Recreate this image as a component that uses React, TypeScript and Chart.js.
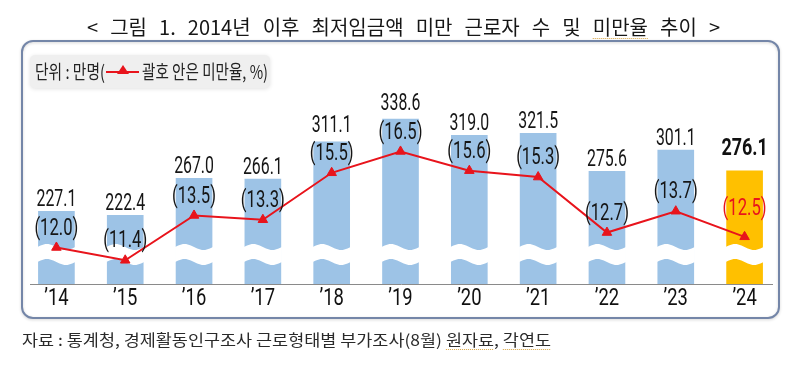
import React, { useEffect, useRef } from 'react';
import { Chart, registerables } from 'chart.js';

Chart.register(...registerables);

const TITLE = '< 그림 1. 2014년 이후 최저임금액 미만 근로자 수 및 미만율 추이 >';
const LEGEND_UNIT = '단위 : 만명(';
const LEGEND_NOTE = '괄호 안은 미만율, %)';
const SOURCE = '자료 : 통계청, 경제활동인구조사 근로형태별 부가조사(8월) 원자료, 각연도';

const years = ['’14', '’15', '’16', '’17', '’18', '’19', '’20', '’21', '’22', '’23', '’24'];
const workers = [227.1, 222.4, 267.0, 266.1, 311.1, 338.6, 319.0, 321.5, 275.6, 301.1, 276.1];
const rates = [12.0, 11.4, 13.5, 13.3, 15.5, 16.5, 15.6, 15.3, 12.7, 13.7, 12.5];

const BLUE = '#9dc3e6';
const GOLD = '#ffc000';
const RED = '#e8141c';
const INK = '#161616';
const CJK = '"Noto Sans CJK KR", "Noto Sans", sans-serif';
const NUM = 'Roboto, "Liberation Sans", sans-serif';

function drawScaled(ctx: CanvasRenderingContext2D, text: string, x: number, y: number, font: string, color: string, sx: number, align: CanvasTextAlign = 'center') {
  ctx.save();
  ctx.font = font;
  ctx.fillStyle = color;
  ctx.textBaseline = 'middle';
  ctx.textAlign = align;
  ctx.translate(x, y);
  ctx.scale(sx, 1);
  ctx.fillText(text, 0, 0);
  ctx.restore();
}

function drawFit(ctx: CanvasRenderingContext2D, text: string, x: number, y: number, font: string, color: string, width: number) {
  ctx.save();
  ctx.font = font;
  const w = ctx.measureText(text).width;
  ctx.restore();
  const sx = width / w;
  drawScaled(ctx, text, x, y, font, color, sx, 'left');
  return sx;
}

function dotted(ctx: CanvasRenderingContext2D, x1: number, x2: number, y: number) {
  ctx.save();
  ctx.strokeStyle = '#d9a441';
  ctx.lineWidth = 1;
  ctx.setLineDash([1, 1]);
  ctx.beginPath();
  ctx.moveTo(x1, y + 0.5);
  ctx.lineTo(x2, y + 0.5);
  ctx.stroke();
  ctx.restore();
}

const framePlugin = {
  id: 'frame',
  beforeDraw(chart: any) {
    const ctx: CanvasRenderingContext2D = chart.ctx;
    ctx.save();
    ctx.fillStyle = '#ffffff';
    ctx.fillRect(0, 0, chart.width, chart.height);
    ctx.restore();

    // title with widened word gaps
    ctx.save();
    ctx.font = `20px ${CJK}`;
    const words = TITLE.split(' ');
    const widths = words.map((w) => ctx.measureText(w).width);
    const total = widths.reduce((a, b) => a + b, 0);
    const gap = (633 - total) / (words.length - 1);
    let x = 87;
    ctx.fillStyle = INK;
    ctx.textBaseline = 'middle';
    words.forEach((w, i) => {
      ctx.fillText(w, x, 27);
      if (w === '미만율') dotted(ctx, x, x + widths[i], 38);
      x += widths[i] + gap;
    });
    ctx.restore();

    // outer box
    ctx.save();
    ctx.shadowColor = 'rgba(0,0,0,0.18)';
    ctx.shadowBlur = 3;
    ctx.shadowOffsetY = 1;
    ctx.strokeStyle = '#7486a8';
    ctx.lineWidth = 2;
    ctx.beginPath();
    ctx.roundRect(22, 41, 757, 277, 11);
    ctx.stroke();
    ctx.restore();

    // legend box
    ctx.save();
    ctx.shadowColor = 'rgba(0,0,0,0.12)';
    ctx.shadowBlur = 4;
    ctx.shadowOffsetY = 1;
    ctx.fillStyle = '#efefef';
    ctx.beginPath();
    ctx.roundRect(30, 55, 240, 33, 5);
    ctx.fill();
    ctx.restore();

    drawFit(ctx, LEGEND_UNIT, 35, 72, `19px ${CJK}`, '#222', 70);
    ctx.save();
    ctx.strokeStyle = RED;
    ctx.lineWidth = 2;
    ctx.beginPath();
    ctx.moveTo(106, 72);
    ctx.lineTo(139, 72);
    ctx.stroke();
    ctx.fillStyle = RED;
    ctx.beginPath();
    ctx.moveTo(123, 65);
    ctx.lineTo(129, 74);
    ctx.lineTo(117, 74);
    ctx.closePath();
    ctx.fill();
    ctx.restore();
    drawFit(ctx, LEGEND_NOTE, 142, 72, `19px ${CJK}`, '#222', 126);

    // source
    const ssx = drawFit(ctx, SOURCE, 22, 340, `15.5px ${CJK}`, '#2a2a2a', 529);
    ctx.save();
    ctx.font = `15.5px ${CJK}`;
    const i1 = SOURCE.indexOf('원자료');
    const i2 = SOURCE.indexOf('각연도');
    const a1 = 22 + ctx.measureText(SOURCE.slice(0, i1)).width * ssx;
    const b1 = 22 + ctx.measureText(SOURCE.slice(0, i1 + 3)).width * ssx;
    const a2 = 22 + ctx.measureText(SOURCE.slice(0, i2)).width * ssx;
    const b2 = 22 + ctx.measureText(SOURCE.slice(0, i2 + 3)).width * ssx;
    ctx.restore();
    dotted(ctx, a1, b1, 349);
    dotted(ctx, a2, b2, 349);
  },
};

const breakPlugin = {
  id: 'axisBreak',
  afterDatasetDraw(chart: any, args: any) {
    if (args.index !== 0) return;
    const ctx: CanvasRenderingContext2D = chart.ctx;
    const base = chart.chartArea.bottom;
    const top = base - 37;
    const bot = base - 22;
    const amp = 3;
    ctx.save();
    ctx.fillStyle = '#ffffff';
    args.meta.data.forEach((el: any) => {
      const left = el.x - el.width / 2 - 1;
      const w = el.width + 2;
      ctx.beginPath();
      const steps = 24;
      for (let s = 0; s <= steps; s++) {
        const t = s / steps;
        const y = top - amp * Math.sin(2 * Math.PI * t);
        if (s === 0) ctx.moveTo(left + t * w, y);
        else ctx.lineTo(left + t * w, y);
      }
      for (let s = steps; s >= 0; s--) {
        const t = s / steps;
        const y = bot - amp * Math.sin(2 * Math.PI * t);
        ctx.lineTo(left + t * w, y);
      }
      ctx.closePath();
      ctx.fill();
    });
    ctx.restore();
  },
};

const labelPlugin = {
  id: 'labels',
  afterDatasetsDraw(chart: any) {
    const ctx: CanvasRenderingContext2D = chart.ctx;
    const bars = chart.getDatasetMeta(0).data;
    const pts = chart.getDatasetMeta(1).data;
    const last = years.length - 1;

    // baseline
    ctx.save();
    ctx.strokeStyle = '#8a8a8a';
    ctx.lineWidth = 1;
    ctx.beginPath();
    ctx.moveTo(30, chart.chartArea.bottom + 0.5);
    ctx.lineTo(773, chart.chartArea.bottom + 0.5);
    ctx.stroke();
    ctx.restore();

    years.forEach((yr, i) => {
      const b = bars[i];
      const p = pts[i];
      const hi = i === last;
      const rateY = hi ? p.y - 28 : p.y - 19;
      const valY = hi ? b.y - 22 : Math.min(b.y - 11, rateY - 28);
      if (hi) {
        drawScaled(ctx, workers[i].toFixed(1), b.x, valY, `bold 23px ${NUM}`, '#111', 0.78);
      } else {
        drawScaled(ctx, workers[i].toFixed(1), b.x, valY, `24px ${NUM}`, INK, 0.66);
      }
      drawScaled(ctx, `(${rates[i].toFixed(1)})`, b.x, rateY, `24.5px ${NUM}`, hi ? RED : INK, 0.68);
      drawScaled(ctx, yr, b.x, chart.chartArea.bottom + 15, `23px ${NUM}`, '#111', 0.8);
    });
  },
};

export default function App() {
  const ref = useRef<HTMLCanvasElement | null>(null);
  useEffect(() => {
    if (!ref.current) return;
    const chart = new Chart(ref.current, {
      type: 'bar',
      data: {
        labels: years,
        datasets: [
          {
            type: 'bar',
            data: workers,
            backgroundColor: workers.map((_, i) => (i === workers.length - 1 ? GOLD : BLUE)),
            barThickness: 36,
            yAxisID: 'y',
            order: 2,
          },
          {
            type: 'line',
            data: rates,
            borderColor: RED,
            borderWidth: 2,
            pointStyle: 'triangle',
            pointRadius: 5.5,
            pointBackgroundColor: RED,
            pointBorderColor: RED,
            pointBorderWidth: 1,
            tension: 0,
            yAxisID: 'y1',
            order: 1,
          },
        ] as any,
      },
      options: {
        responsive: false,
        animation: false,
        layout: { padding: { left: 22, right: 21, top: 100, bottom: 94 } },
        plugins: { legend: { display: false }, tooltip: { enabled: false }, title: { display: false } },
        scales: {
          x: { display: false, offset: true, grid: { display: false } },
          y: { display: false, min: 139.4, max: 361.6 },
          y1: { display: false, min: 10.29, max: 18.91, position: 'right' },
        },
      },
      plugins: [framePlugin, breakPlugin, labelPlugin],
    });
    return () => chart.destroy();
  }, []);
  return (
    <div style={{ position: 'absolute', left: 0, top: 0, width: 800, height: 378 }}>
      <canvas ref={ref} width={800} height={378} style={{ display: 'block', width: 800, height: 378 }} />
    </div>
  );
}
